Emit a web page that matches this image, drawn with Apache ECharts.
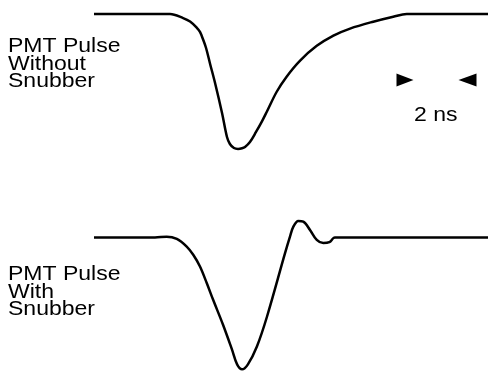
<!DOCTYPE html>
<html>
<head>
<meta charset="utf-8">
<title>PMT Pulse</title>
<script src="https://cdn.jsdelivr.net/npm/echarts@6/dist/echarts.min.js"></script>
<style>
    html, body {margin: 0; padding: 0; background: #fff;}
    #charts {width: 488px; height: 372px;}
</style>
</head>
<body>
<div id="charts"></div>
<script>
// time in ns, amplitude normalised to the deepest trough
var timeNoSnubber = [0, 2.93, 3.38, 3.96, 4.27, 4.58, 4.71, 4.84, 4.98, 5.16, 5.38, 5.69, 5.91, 6.04, 6.22, 6.40, 6.58, 6.71, 6.93, 7.20, 7.47, 7.68, 8.12, 8.56, 9.16, 9.90, 10.64, 11.38, 12.41, 13.30, 13.90, 17.51];
var ampNoSnubber = [0, 0, 0, -0.030, -0.056, -0.104, -0.133, -0.185, -0.252, -0.370, -0.511, -0.733, -0.911, -0.963, -0.993, -1.0, -0.995, -0.985, -0.948, -0.874, -0.793, -0.724, -0.576, -0.464, -0.345, -0.236, -0.160, -0.108, -0.057, -0.020, 0, 0];

var timeSnubber = [0, 2.71, 3.23, 3.68, 4.12, 4.41, 4.71, 5.01, 5.29, 5.73, 6.13, 6.36, 6.58, 6.84, 7.24, 7.69, 8.49, 8.71, 8.86, 9.08, 9.30, 9.60, 9.90, 10.19, 10.46, 10.64, 10.71, 17.51];
var ampSnubber = [0, 0, 0.007, -0.010, -0.067, -0.128, -0.215, -0.338, -0.461, -0.647, -0.832, -0.943, -0.98, -0.943, -0.810, -0.587, -0.116, 0.007, 0.081, 0.124, 0.119, 0.057, -0.017, -0.041, -0.034, -0.004, 0, 0];

var labelNoSnubber = ['PMT Pulse', 'Without', 'Snubber'];
var labelSnubber = ['PMT Pulse', 'With', 'Snubber'];
var scaleText = '2 ns';
// arrow tips 2 ns apart
var scaleStart = 14.19;
var scaleEnd = 16.19;

$ = function (s) { return document.querySelector(s); };

staticChart();

function pairs(xs, ys) {
    var out = [];
    for (var i = 0; i < xs.length; i++) {
        out.push([xs[i], ys[i]]);
    }
    return out;
}

function textLines(lines, x, y0, step) {
    var items = [];
    for (var i = 0; i < lines.length; i++) {
        items.push({
            type: 'text',
            x: x,
            y: y0 + i * step,
            scaleX: 1.15,
            style: {
                text: lines[i],
                fill: '#000',
                font: '20px "Liberation Sans", Arial, sans-serif',
                verticalAlign: 'middle'
            }
        });
    }
    return items;
}

function staticChart() {
    var myChart = echarts.init($('#charts'), null, {renderer: 'canvas'});
    var graphics = textLines(labelNoSnubber, 8, 46.8, 17.2)
        .concat(textLines(labelSnubber, 8, 274.5, 17.5));
    graphics.push({
        type: 'text',
        x: 435.8,
        y: 115,
        scaleX: 1.15,
        style: {
            text: scaleText,
            fill: '#000',
            font: '20px "Liberation Sans", Arial, sans-serif',
            align: 'center',
            verticalAlign: 'middle'
        }
    });

    var option = {
        animation: false,
        backgroundColor: '#fff',
        grid: [
            {left: 94, right: 0, top: 14, height: 135},
            {left: 94, right: 0, top: 210.7, height: 162}
        ],
        xAxis: [
            {type: 'value', gridIndex: 0, min: 0, max: 17.51, show: false},
            {type: 'value', gridIndex: 1, min: 0, max: 17.51, show: false}
        ],
        yAxis: [
            {type: 'value', gridIndex: 0, min: -1, max: 0, show: false},
            {type: 'value', gridIndex: 1, min: -1, max: 0.2, show: false}
        ],
        graphic: graphics,
        series: [{
            type: 'line',
            xAxisIndex: 0,
            yAxisIndex: 0,
            data: pairs(timeNoSnubber, ampNoSnubber),
            smooth: 0.35,
            showSymbol: false,
            clip: false,
            lineStyle: {color: '#000', width: 2.5},
            markPoint: {
                silent: true,
                label: {show: false},
                itemStyle: {color: '#000'},
                data: [
                    {coord: [scaleStart - 0.37, -0.489], symbol: 'triangle', symbolSize: [13, 17], symbolRotate: -90},
                    {coord: [scaleEnd + 0.41, -0.489], symbol: 'triangle', symbolSize: [13, 18], symbolRotate: 90}
                ]
            }
        }, {
            type: 'line',
            xAxisIndex: 1,
            yAxisIndex: 1,
            data: pairs(timeSnubber, ampSnubber),
            smooth: 0.35,
            showSymbol: false,
            clip: false,
            lineStyle: {color: '#000', width: 2.5}
        }]
    };

    myChart.setOption(option);
}
</script>
</body>
</html>
